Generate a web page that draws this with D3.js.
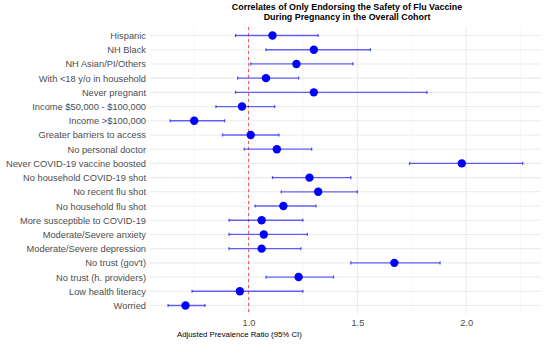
<!DOCTYPE html>
<html>
<head>
<meta charset="utf-8">
<script src="https://cdn.jsdelivr.net/npm/d3@7"></script>
<style>
  body { margin: 0; background: #fff; }
  text { font-family: "Liberation Sans", Arial, sans-serif; }
</style>
</head>
<body>
<svg id="chart" width="550" height="348"></svg>
<script>
// data, top row first
const labels = [
  'Hispanic', 'NH Black', 'NH Asian/PI/Others', 'With <18 y/o in household',
  'Never pregnant', 'Income $50,000 - $100,000', 'Income >$100,000',
  'Greater barriers to access', 'No personal doctor', 'Never COVID-19 vaccine boosted',
  'No household COVID-19 shot', 'No recent flu shot', 'No household flu shot',
  'More susceptible to COVID-19', 'Moderate/Severe anxiety', 'Moderate/Severe depression',
  'No trust (gov\'t)', 'No trust (h. providers)', 'Low health literacy', 'Worried'
]
const estimates = [1.11, 1.30, 1.22, 1.08, 1.30, 0.97, 0.75, 1.01, 1.13, 1.98,
  1.28, 1.32, 1.16, 1.06, 1.07, 1.06, 1.67, 1.23, 0.96, 0.71]
const lower = [0.94, 1.08, 1.01, 0.95, 0.94, 0.85, 0.64, 0.88, 0.98, 1.74,
  1.11, 1.15, 1.03, 0.91, 0.91, 0.91, 1.47, 1.08, 0.74, 0.63]
const upper = [1.32, 1.56, 1.48, 1.23, 1.82, 1.12, 0.89, 1.14, 1.29, 2.26,
  1.47, 1.50, 1.31, 1.25, 1.27, 1.24, 1.88, 1.39, 1.25, 0.80]
const majorTicks = [1.0, 1.5, 2.0]
const minorTicks = [0.75, 1.25, 1.75, 2.25]

const rows = labels.map((l, i) => ({ label: l, est: estimates[i], lo: lower[i], hi: upper[i] }))

const svg = d3.select('#chart')
const panelLeft = 150, panelRight = 541, panelTop = 27, panelBottom = 314

const x = d3.scaleLinear()
  .domain([0.547, 2.344])
  .range([panelLeft, panelRight])

const y = d3.scalePoint()
  .domain(labels)
  .range([panelTop, panelBottom])
  .padding(0.6)

// grid
const grid = svg.append('g')
grid.selectAll('.minor').data(minorTicks).enter().append('line')
  .attr('x1', d => x(d)).attr('x2', d => x(d))
  .attr('y1', panelTop).attr('y2', panelBottom)
  .attr('stroke', '#f2f2f2').attr('stroke-width', 0.6)
grid.selectAll('.major').data(majorTicks).enter().append('line')
  .attr('x1', d => x(d)).attr('x2', d => x(d))
  .attr('y1', panelTop).attr('y2', panelBottom)
  .attr('stroke', '#ebebeb').attr('stroke-width', 1.1)
grid.selectAll('.hrow').data(labels).enter().append('line')
  .attr('x1', panelLeft).attr('x2', panelRight)
  .attr('y1', d => y(d)).attr('y2', d => y(d))
  .attr('stroke', '#ebebeb').attr('stroke-width', 1.1)

// reference line at 1
svg.append('line')
  .attr('x1', x(1)).attr('x2', x(1))
  .attr('y1', panelTop).attr('y2', panelBottom)
  .attr('stroke', '#ff4444')
  .attr('stroke-dasharray', '3,3')
  .attr('stroke-width', 0.9)

// axes (text only, like theme_minimal)
const yAxis = svg.append('g')
  .attr('transform', `translate(${panelLeft - 4},0)`)
  .call(d3.axisLeft(y).tickSize(0).tickPadding(0))
yAxis.select('.domain').remove()
yAxis.selectAll('text')
  .attr('fill', '#4d4d4d')
  .style('font-size', '9.3px')

const xAxis = svg.append('g')
  .attr('transform', `translate(0,${panelBottom})`)
  .call(d3.axisBottom(x).tickValues(majorTicks).tickSize(0).tickPadding(5).tickFormat(d3.format('.1f')))
xAxis.select('.domain').remove()
xAxis.selectAll('text')
  .attr('fill', '#4d4d4d')
  .style('font-size', '9.3px')

// error bars
const bars = svg.append('g').selectAll('g').data(rows).enter().append('g')
  .attr('stroke', 'rgba(0,0,255,0.6)')
  .attr('stroke-width', 1.3)
bars.append('line')
  .attr('x1', d => x(d.lo)).attr('x2', d => x(d.hi))
  .attr('y1', d => y(d.label)).attr('y2', d => y(d.label))
bars.append('line')
  .attr('x1', d => x(d.lo)).attr('x2', d => x(d.lo))
  .attr('y1', d => y(d.label) - 1.6).attr('y2', d => y(d.label) + 1.6)
bars.append('line')
  .attr('x1', d => x(d.hi)).attr('x2', d => x(d.hi))
  .attr('y1', d => y(d.label) - 1.6).attr('y2', d => y(d.label) + 1.6)

svg.append('g').selectAll('circle').data(rows).enter().append('circle')
  .attr('cx', d => x(d.est))
  .attr('cy', d => y(d.label))
  .attr('r', 4.2)
  .attr('fill', '#0000ff')

// titles
svg.append('text')
  .attr('x', 347).attr('y', 10)
  .attr('text-anchor', 'middle')
  .style('font-size', '8.9px').style('font-weight', 'bold')
  .text('Correlates of Only Endorsing the Safety of Flu Vaccine')
svg.append('text')
  .attr('x', 347).attr('y', 20)
  .attr('text-anchor', 'middle')
  .style('font-size', '8.9px').style('font-weight', 'bold')
  .text('During Pregnancy in the Overall Cohort')

svg.append('text')
  .attr('x', 177).attr('y', 337)
  .style('font-size', '7.8px')
  .attr('fill', '#000')
  .text('Adjusted Prevalence Ratio (95% CI)')
</script>
</body>
</html>
